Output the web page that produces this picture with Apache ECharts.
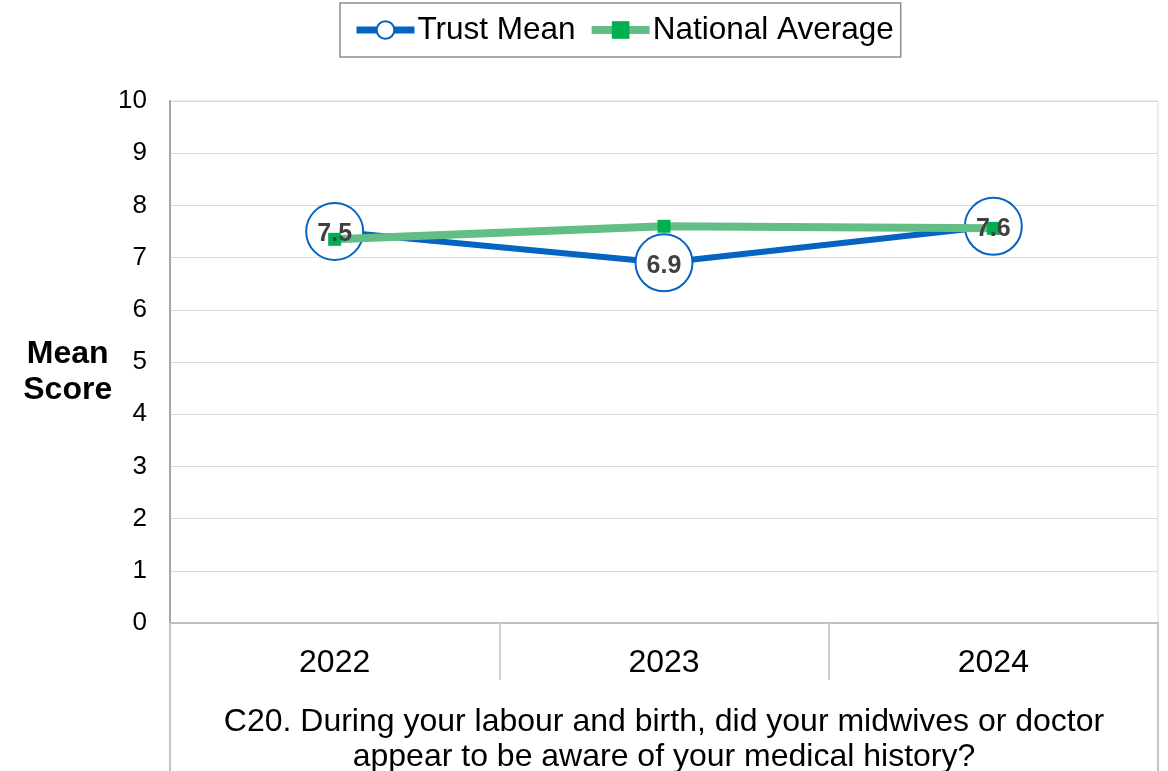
<!DOCTYPE html>
<html>
<head>
<meta charset="utf-8">
<script src="https://cdn.jsdelivr.net/npm/echarts@6/dist/echarts.min.js"></script>
<style>html,body{margin:0;padding:0;background:#fff}#c{width:1168px;height:771px}</style>
</head>
<body>
<div id="c"></div>
<script>
const categories = ['2022', '2023', '2024'];
const trustMean = [7.5, 6.9, 7.6];
const nationalAverage = [7.35, 7.6, 7.56];
const yTicks = [0, 1, 2, 3, 4, 5, 6, 7, 8, 9, 10];
const xTitle = 'C20. During your labour and birth, did your midwives or doctor\nappear to be aware of your medical history?';
const yTitleLines = ['Mean', 'Score'];

const G = {left: 170, top: 101, width: 988, height: 522};
const FONT = '"Liberation Sans", Arial, sans-serif';
const chart = echarts.init(document.getElementById('c'), null, {renderer: 'canvas'});
chart.setOption({
  animation: false,
  backgroundColor: '#fff',
  textStyle: {fontFamily: FONT},
  legend: {
    top: 3, left: 340,
    data: [
      {name: 'Trust Mean', lineStyle: {width: 7, color: '#0563C1'}},
      {name: 'National Average', lineStyle: {width: 8, color: '#62BE84'}}
    ],
    borderColor: '#8c8c8c', borderWidth: 1.5,
    padding: [11, 7, 11, 13],
    itemWidth: 58, itemHeight: 22, itemGap: 12,
    textStyle: {fontSize: 31.5, color: '#000', fontFamily: FONT, padding: [0, 0, 0, -2]}
  },
  grid: Object.assign({show: true, borderColor: '#d9d9d9', borderWidth: 1, containLabel: false, outerBoundsMode: 'none'}, G),
  xAxis: {
    type: 'category', data: categories, boundaryGap: true,
    axisLine: {lineStyle: {color: '#bfbfbf', width: 2}},
    axisTick: {show: true, length: 57, lineStyle: {color: '#d0d0d0', width: 2}},
    axisLabel: {fontSize: 32, color: '#000', margin: 24, fontFamily: FONT},
    name: xTitle, nameLocation: 'middle', nameGap: 82,
    nameTextStyle: {fontSize: 32, color: '#000', lineHeight: 35, fontFamily: FONT}
  },
  yAxis: {
    type: 'value', min: 0, max: 10, interval: 1,
    axisLine: {show: true, lineStyle: {color: '#a6a6a6', width: 2}},
    axisTick: {show: false},
    splitLine: {lineStyle: {color: '#d9d9d9', width: 1}},
    axisLabel: {fontSize: 26, color: '#000', margin: 23, fontFamily: FONT,
      formatter: v => yTicks.includes(v) ? String(v) : ''},
    name: '{s| }\n' + yTitleLines.map(t => '{b|' + t + '}').join('\n'),
    nameLocation: 'middle', nameRotate: 0, nameGap: 60,
    nameTextStyle: {align: 'center', fontFamily: FONT,
      rich: {
        s: {fontSize: 10, lineHeight: 20},
        b: {fontSize: 32, fontWeight: 'bold', color: '#000', lineHeight: 36, align: 'center', fontFamily: FONT}
      }}
  },
  graphic: [
    {type: 'line', z: 1, shape: {x1: G.left, y1: G.top + G.height, x2: G.left, y2: 800},
      style: {stroke: '#c4c4c4', lineWidth: 2}},
    {type: 'line', z: 1, shape: {x1: G.left + G.width, y1: G.top + G.height, x2: G.left + G.width, y2: 800},
      style: {stroke: '#c4c4c4', lineWidth: 2}}
  ],
  series: [
    {
      name: 'Trust Mean', type: 'line', data: trustMean, z: 2,
      lineStyle: {color: '#0563C1', width: 6},
      itemStyle: {color: '#fff', borderColor: '#0563C1', borderWidth: 2},
      symbol: 'circle', symbolSize: 57, showAllSymbol: true,
      label: {show: false}
    },
    {
      name: 'National Average', type: 'line', data: nationalAverage, z: 3,
      lineStyle: {color: '#62BE84', width: 8},
      itemStyle: {color: '#00B050'},
      symbol: 'rect', symbolSize: 13, showAllSymbol: true
    },
    {
      name: 'Trust Mean labels', type: 'scatter', data: trustMean, z: 4,
      symbolSize: 1, itemStyle: {color: 'rgba(0,0,0,0)', opacity: 1}, silent: true,
      label: {show: true, position: 'inside', offset: [0, 3], fontSize: 25, fontWeight: 'bold', color: '#404040',
        opacity: 1, fontFamily: FONT, formatter: p => p.value.toFixed(1)},
      legendHoverLink: false
    }
  ]
});
</script>
</body>
</html>
